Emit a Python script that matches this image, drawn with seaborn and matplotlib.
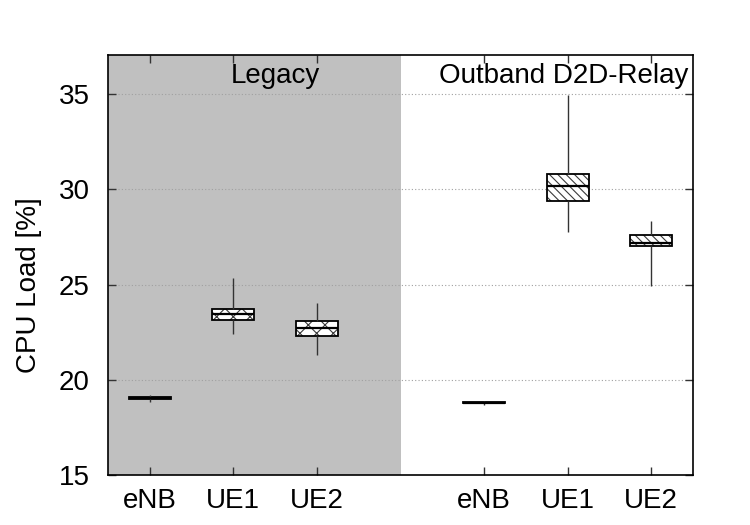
import numpy as np
import pandas as pd
import matplotlib
matplotlib.use("Agg")
import matplotlib.pyplot as plt
from matplotlib.colors import to_rgba
import seaborn as sns

# Box statistics: [whisker low, Q1, median, Q3, whisker high]
positions = [0, 1, 2, 4, 5, 6]
tick_labels = ["eNB", "UE1", "UE2", "eNB", "UE1", "UE2"]
groups = ["Legacy", "Legacy", "Legacy", "Outband D2D-Relay", "Outband D2D-Relay", "Outband D2D-Relay"]
legacy_enb = [18.82, 19.00, 19.05, 19.10, 19.18]
legacy_ue1 = [22.40, 23.14, 23.45, 23.71, 25.34]
legacy_ue2 = [21.30, 22.30, 22.72, 23.08, 24.03]
outband_enb = [18.65, 18.76, 18.80, 18.84, 18.90]
outband_ue1 = [27.76, 29.38, 30.17, 30.82, 34.95]
outband_ue2 = [24.94, 27.04, 27.19, 27.58, 28.35]
series = [legacy_enb, legacy_ue1, legacy_ue2, outband_enb, outband_ue1, outband_ue2]

rows = []
for pos, grp, vals in zip(positions, groups, series):
    for v in vals:
        rows.append({"pos": pos, "group": grp, "load": v})
df = pd.DataFrame(rows)

sns.set_theme(style="ticks")
plt.rcParams["font.family"] = ["Liberation Sans", "DejaVu Sans"]
plt.rcParams["text.color"] = "black"
plt.rcParams["axes.labelcolor"] = "black"
plt.rcParams["xtick.color"] = "black"
plt.rcParams["ytick.color"] = "black"
plt.rcParams["hatch.linewidth"] = 0.8

fig = plt.figure(figsize=(7.5, 5.25), dpi=100)
ax = fig.add_axes([0.144, 0.0952, 0.780, 0.800])

ax.axvspan(-0.5, 3.0, color="#c0c0c0", zorder=0, lw=0)
for y in [20, 25, 30, 35]:
    ax.axhline(y, color="#a0a0a0", lw=0.8, ls=(0, (1, 2)), zorder=0.5)

sns.boxplot(data=df, x="pos", y="load", native_scale=True, whis=np.inf,
            width=0.5, color="white", linecolor="black", linewidth=1.3,
            showcaps=False, fill=True, ax=ax,
            medianprops={"color": "black", "linewidth": 1.6},
            whiskerprops={"color": "#333333", "linewidth": 1.0},
            boxprops={"zorder": 2})

hatches = ["xx", "xx", "xx", "\\\\\\\\", "\\\\\\\\", "\\\\\\\\"]
box_patches = [p for p in ax.patches if isinstance(p, matplotlib.patches.PathPatch)]
for p, h in zip(box_patches, hatches):
    p.set_hatch(h)
    p.set_facecolor("white")
    p.set_edgecolor("black")
    p._hatch_color = to_rgba("#3a3a3a")
    p.set_zorder(2)

ax.set_xlim(-0.5, 6.5)
ax.set_ylim(15, 37.05)
ax.set_xticks(positions)
ax.set_xticklabels(tick_labels)
ax.set_yticks([15, 20, 25, 30, 35])
ax.set_xlabel("")
ax.set_ylabel("CPU Load [%]", fontsize=20)
ax.yaxis.set_label_coords(-0.113, 0.452)
ax.tick_params(axis="both", direction="in", length=6, width=1, labelsize=20,
               top=True, right=True, color="#333333")
ax.tick_params(axis="y", pad=13)
ax.tick_params(axis="x", pad=9)
for s in ax.spines.values():
    s.set_linewidth(1.2)
    s.set_color("black")
    s.set_visible(True)

ax.text(1.5, 35.95, "Legacy", fontsize=20, ha="center", va="center", color="black")
ax.text(6.45, 35.95, "Outband D2D-Relay", fontsize=20, ha="right", va="center", color="black")

fig.savefig("out.png", dpi=100)
